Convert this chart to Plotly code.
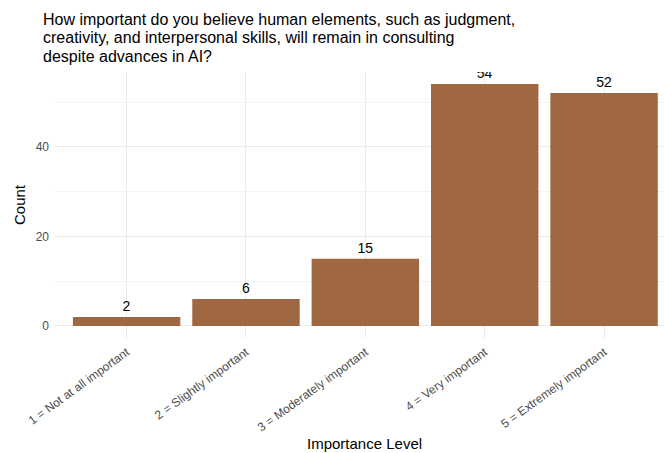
import plotly.graph_objects as go

categories = [
    "1 = Not at all important",
    "2 = Slightly important",
    "3 = Moderately important",
    "4 = Very important",
    "5 = Extremely important",
]
counts = [2, 6, 15, 54, 52]

title_lines = [
    "How important do you believe human elements, such as judgment,",
    "creativity, and interpersonal skills, will remain in consulting",
    "despite advances in AI?",
]

FONT = "Liberation Sans, Arial, sans-serif"
GRID = "#ebebeb"

fig = go.Figure()
fig.add_trace(go.Bar(
    x=list(range(len(categories))),
    y=counts,
    width=0.9,
    marker=dict(color="rgba(150, 88, 45, 0.9)", line=dict(width=0)),
    text=[str(c) for c in counts],
    textposition="outside",
    textfont=dict(family=FONT, size=14, color="black"),
    cliponaxis=True,
))

ymax = max(counts) * 1.05
fig.update_layout(
    width=664, height=453,
    margin=dict(l=55, r=0, t=72, b=115),
    plot_bgcolor="white", paper_bgcolor="white",
    showlegend=False,
    font=dict(family=FONT),
    xaxis=dict(
        range=[-0.6, 4.502],
        tickmode="array",
        tickvals=list(range(len(categories))),
        ticktext=categories,
        tickangle=-36,
        tickfont=dict(size=12, color="#4d4d4d"),
        showgrid=True, gridcolor=GRID, gridwidth=1,
        zeroline=False, showline=False, ticks="",
        ticklabelstandoff=4,
    ),
    yaxis=dict(
        range=[-0.05 * max(counts), ymax],
        tickmode="linear", tick0=0, dtick=20,
        tickfont=dict(size=12, color="#4d4d4d"),
        showgrid=True, gridcolor=GRID, gridwidth=1,
        minor=dict(dtick=10, showgrid=True, gridcolor="#f3f3f3", gridwidth=0.6),
        zeroline=False, showline=False, ticks="",
        ticklabelstandoff=5,
    ),
)

# Multi-line title, left aligned
for i, line in enumerate(title_lines):
    fig.add_annotation(
        text=line, xref="paper", yref="paper",
        x=-14 / 609, y=1, xanchor="left", yanchor="bottom",
        yshift=42 - i * 18.4,
        showarrow=False,
        font=dict(family=FONT, size=16, color="black"),
    )

# Axis titles
fig.add_annotation(
    text="Importance Level", xref="paper", yref="paper",
    x=(364.5 - 55) / 609, y=0, xanchor="center", yanchor="middle",
    yshift=-(443 - 338), showarrow=False,
    font=dict(family=FONT, size=15, color="black"),
)
fig.add_annotation(
    text="Count", xref="paper", yref="paper",
    x=0, y=0.5, xanchor="center", yanchor="middle",
    xshift=-(55 - 19), textangle=-90, showarrow=False,
    font=dict(family=FONT, size=15, color="black"),
)

fig.write_html("out.html")
